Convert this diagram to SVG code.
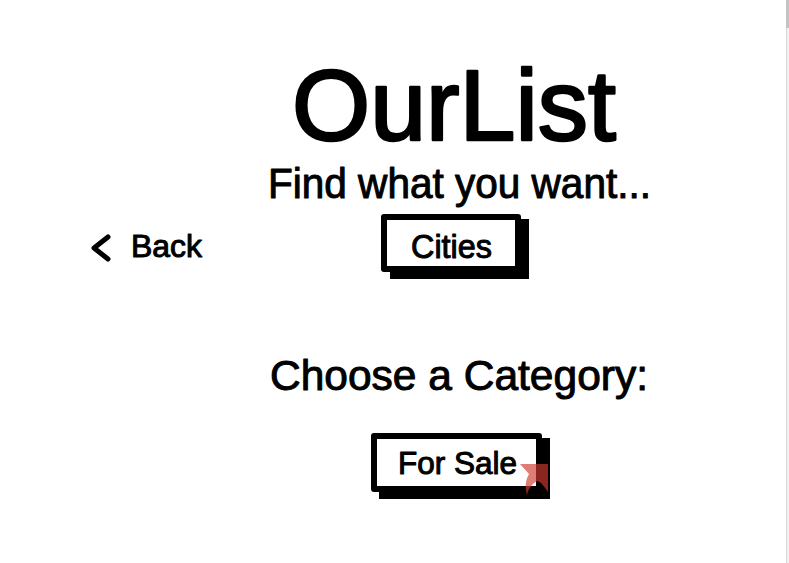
<svg xmlns="http://www.w3.org/2000/svg" width="789" height="563" viewBox="0 0 789 563">
  <style>
    .t { font-family: "Liberation Sans", Arial, sans-serif; font-weight: normal; fill: #000; stroke: #000; stroke-width: 1; stroke-linejoin: round; }
    .big { stroke-width: 2.6; }
    .box { fill: #fff; stroke: #000; stroke-width: 6; stroke-linejoin: round; }
    .shadow { fill: #000; }
  </style>
  <rect x="0" y="0" width="789" height="563" fill="#fff"/>
  <g id="scrollbar">
    <rect x="786" y="0" width="3" height="563" fill="#f1f1f1"/>
    <rect x="786" y="0" width="1" height="563" fill="#d6d6d6"/>
    <rect x="786" y="0" width="3" height="28" fill="#c3c3c3"/>
  </g>
  <g id="title">
    <text class="t big" x="292" y="140" font-size="100" textLength="324" lengthAdjust="spacingAndGlyphs">OurList</text>
  </g>
  <g id="subtitle">
    <text class="t" x="268" y="198" font-size="42" textLength="383" lengthAdjust="spacingAndGlyphs">Find what you want...</text>
  </g>
  <g id="back">
    <path d="M108,237 L94,248 L108,259" fill="none" stroke="#000" stroke-width="5" stroke-linecap="round" stroke-linejoin="round"/>
    <text class="t" x="131" y="257" font-size="31" textLength="71" lengthAdjust="spacingAndGlyphs">Back</text>
  </g>
  <g id="cities">
    <rect class="shadow" x="390" y="219" width="139" height="60"/>
    <rect class="box" x="384" y="217" width="134" height="52"/>
    <text class="t" x="411" y="258" font-size="33" textLength="81" lengthAdjust="spacingAndGlyphs">Cities</text>
  </g>
  <g id="category-label">
    <text class="t" x="270" y="390" font-size="43" textLength="378" lengthAdjust="spacingAndGlyphs">Choose a Category:</text>
  </g>
  <g id="for-sale">
    <rect class="shadow" x="379" y="438" width="171" height="61"/>
    <rect class="box" x="374" y="436" width="165" height="53"/>
    <text class="t" x="398" y="474" font-size="31" textLength="119" lengthAdjust="spacingAndGlyphs">For Sale</text>
    <path d="M520,464 L548,464 L548,492 C544,486 541,482 537,481 C532,484 528,489 527,495 C525,488 525,481 529,474 Z" fill="#d23a30" fill-opacity="0.66"/>
  </g>
</svg>
